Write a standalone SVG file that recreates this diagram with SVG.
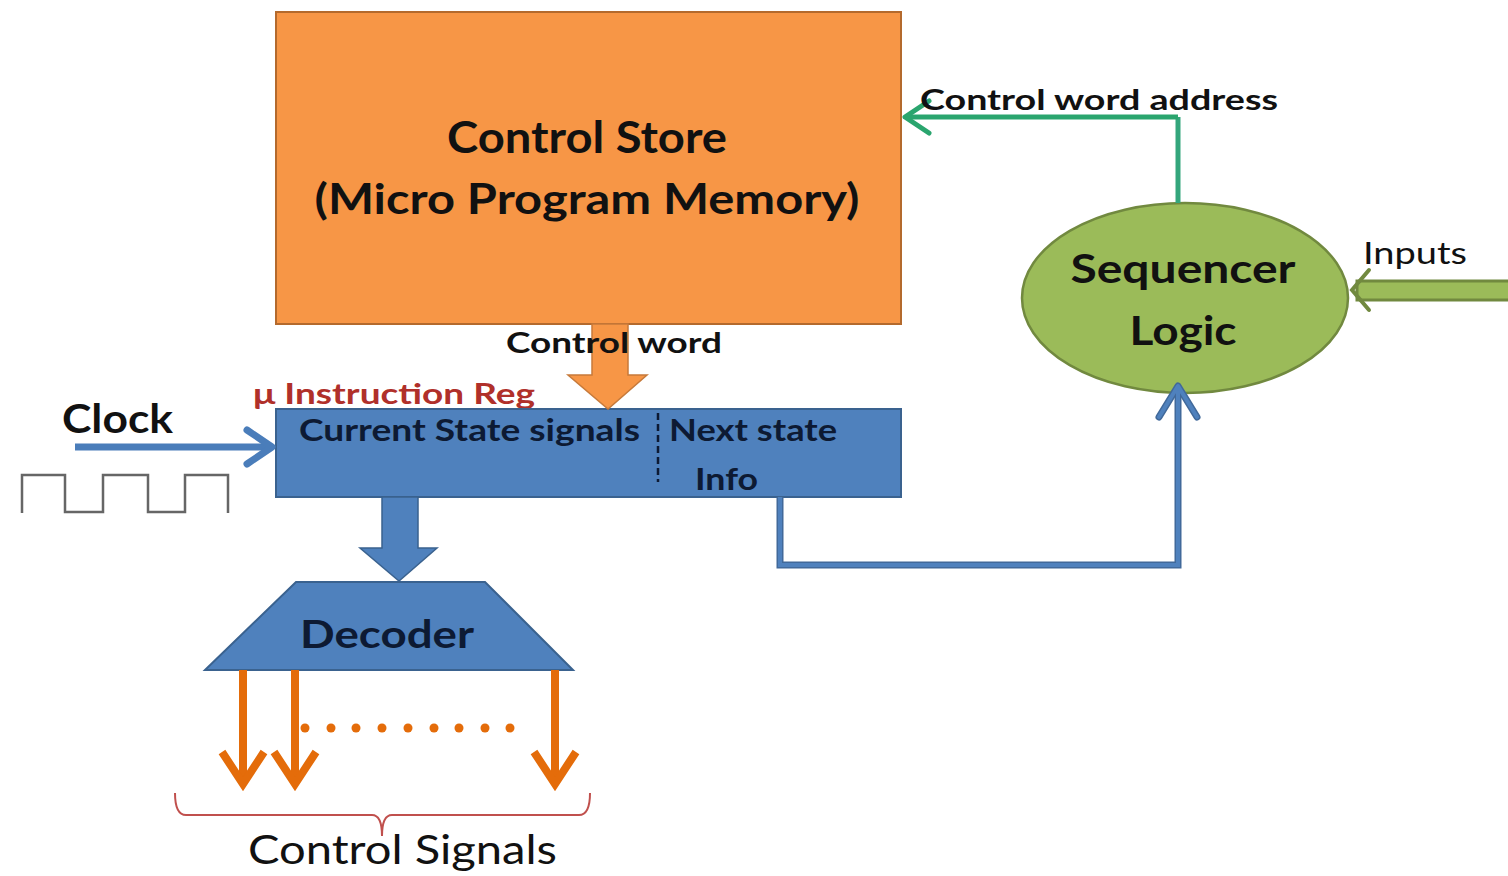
<svg xmlns="http://www.w3.org/2000/svg" width="1508" height="876" viewBox="0 0 1508 876">
  <style>
    text { font-family: Lato, "Open Sans", "Liberation Sans", sans-serif; }
    .b { font-weight: bold; }
    .dark { fill: #111111; }
    .navy { fill: #0D1A33; }
    .store { fill: #F79646; stroke: #B46A2D; stroke-width: 2; }
    .reg { fill: #4F81BD; stroke: #3A628F; stroke-width: 2; }
    .seq { fill: #9BBB59; stroke: #71893F; stroke-width: 2.5; }
    .sig { fill: none; stroke: #E46C0A; stroke-width: 8; }
    .green { fill: none; stroke: #2AA56E; stroke-width: 5; }
    .blueOut { fill: none; stroke: #41699A; stroke-width: 7; }
    .blueIn { fill: none; stroke: #4F81BD; stroke-width: 4; }
  </style>
  <rect width="1508" height="876" fill="#ffffff"/>

  <!-- Control store -->
  <g id="control-store">
    <rect class="store" x="276" y="12" width="625" height="312"/>
    <text class="b dark" x="587" y="153" font-size="43" text-anchor="middle" textLength="280" lengthAdjust="spacingAndGlyphs">Control Store</text>
    <text class="b dark" x="587" y="214" font-size="42" text-anchor="middle" textLength="545" lengthAdjust="spacingAndGlyphs">(Micro Program Memory)</text>
  </g>

  <!-- Sequencer logic -->
  <g id="sequencer">
    <ellipse class="seq" cx="1185" cy="298" rx="163" ry="95"/>
    <text class="b dark" x="1183" y="283" font-size="41" text-anchor="middle" textLength="225" lengthAdjust="spacingAndGlyphs">Sequencer</text>
    <text class="b dark" x="1183" y="345" font-size="41" text-anchor="middle" textLength="107" lengthAdjust="spacingAndGlyphs">Logic</text>
  </g>

  <!-- Micro-instruction register -->
  <g id="instruction-register">
    <text x="253" y="404" font-size="28" class="b" fill="#B0302A" textLength="282" lengthAdjust="spacingAndGlyphs">μ Instruction Reg</text>
    <rect class="reg" x="276" y="409" width="625" height="88"/>
    <text class="b navy" x="299" y="441" font-size="31" textLength="341" lengthAdjust="spacingAndGlyphs">Current State signals</text>
    <line x1="658" y1="413" x2="658" y2="482" stroke="#0D1A33" stroke-width="2.5" stroke-dasharray="7 4"/>
    <text class="b navy" x="669" y="441" font-size="31" textLength="168" lengthAdjust="spacingAndGlyphs">Next state</text>
    <text class="b navy" x="695" y="490" font-size="31" textLength="63" lengthAdjust="spacingAndGlyphs">Info</text>
  </g>

  <!-- Clock -->
  <g id="clock">
    <text class="b dark" x="62" y="433" font-size="40" textLength="111" lengthAdjust="spacingAndGlyphs">Clock</text>
    <path d="M22,513 V475 H65 V512 H103 V475 H148 V512 H185 V475 H228 V513" fill="none" stroke="#666666" stroke-width="2.5"/>
  </g>

  <!-- Decoder -->
  <g id="decoder">
    <polygon class="reg" points="296,582 485,582 573,670 205,670"/>
    <text class="b navy" x="387" y="648" font-size="39" text-anchor="middle" textLength="174" lengthAdjust="spacingAndGlyphs">Decoder</text>
  </g>

  <!-- Control signals -->
  <g id="control-signals">
    <path d="M175,793 Q175,815 186,815 H372 Q382,815 382,836 Q382,815 392,815 H579 Q590,815 590,793" fill="none" stroke="#C0504D" stroke-width="2"/>
    <text class="dark" x="248" y="864" font-size="41" textLength="309" lengthAdjust="spacingAndGlyphs">Control Signals</text>
  </g>

  <!-- Connectors -->
  <g id="connectors">
    <!-- control word: store to register -->
    <polygon points="592,324 628,324 628,375 647,375 608,409 568,375 592,375" fill="#F79646" stroke="#C77A3A" stroke-width="1.5"/>
    <text class="b dark" x="506" y="353" font-size="29" textLength="216" lengthAdjust="spacingAndGlyphs">Control word</text>

    <!-- register to decoder -->
    <polygon points="382,497 418,497 418,548 437,548 399,581 360,548 382,548" fill="#4F81BD" stroke="#3A628F" stroke-width="1.5"/>

    <!-- clock input -->
    <line x1="75" y1="447" x2="270" y2="447" stroke="#4A7DBA" stroke-width="7"/>
    <path d="M247,430 L272,447 L247,464" fill="none" stroke="#4A7DBA" stroke-width="7" stroke-linejoin="round" stroke-linecap="round"/>

    <!-- next state info to sequencer -->
    <path class="blueOut" d="M780,497 V565 H1178 V388"/>
    <path class="blueOut" d="M1159,417 L1178,386 L1197,417" stroke-linejoin="round" stroke-linecap="round"/>
    <path class="blueIn" d="M780,497 V565 H1178 V388"/>
    <path class="blueIn" d="M1159,417 L1178,386 L1197,417" stroke-linejoin="round" stroke-linecap="round"/>

    <!-- sequencer to control store address -->
    <path d="M1178,203 V117" fill="none" stroke="#34A67C" stroke-width="5"/>
    <path class="green" d="M1178,117 H905"/>
    <path class="green" d="M929,101 L905,117 L929,133" stroke-linejoin="round" stroke-linecap="round"/>
    <text class="b dark" x="920" y="110" font-size="29" textLength="358" lengthAdjust="spacingAndGlyphs">Control word address</text>

    <!-- external inputs -->
    <rect x="1357" y="281" width="155" height="19" fill="#9BBB59" stroke="#71893F" stroke-width="3"/>
    <path d="M1369,270 L1352,290 L1369,310" fill="none" stroke="#71893F" stroke-width="4" stroke-linecap="round"/>
    <text class="dark" x="1363" y="264" font-size="30" textLength="104" lengthAdjust="spacingAndGlyphs">Inputs</text>

    <!-- decoder outputs -->
    <line class="sig" x1="243" y1="670" x2="243" y2="784"/>
    <path class="sig" d="M222,752 L243,784 L264,752"/>
    <line class="sig" x1="295" y1="670" x2="295" y2="784"/>
    <path class="sig" d="M274,752 L295,784 L316,752"/>
    <line class="sig" x1="555" y1="670" x2="555" y2="784"/>
    <path class="sig" d="M534,752 L555,784 L576,752"/>
    <g fill="#E46C0A">
      <circle cx="305" cy="728" r="4.5"/>
      <circle cx="331" cy="728" r="4.5"/>
      <circle cx="356" cy="728" r="4.5"/>
      <circle cx="382" cy="728" r="4.5"/>
      <circle cx="408" cy="728" r="4.5"/>
      <circle cx="434" cy="728" r="4.5"/>
      <circle cx="459" cy="728" r="4.5"/>
      <circle cx="485" cy="728" r="4.5"/>
      <circle cx="510" cy="728" r="4.5"/>
    </g>
  </g>
</svg>
